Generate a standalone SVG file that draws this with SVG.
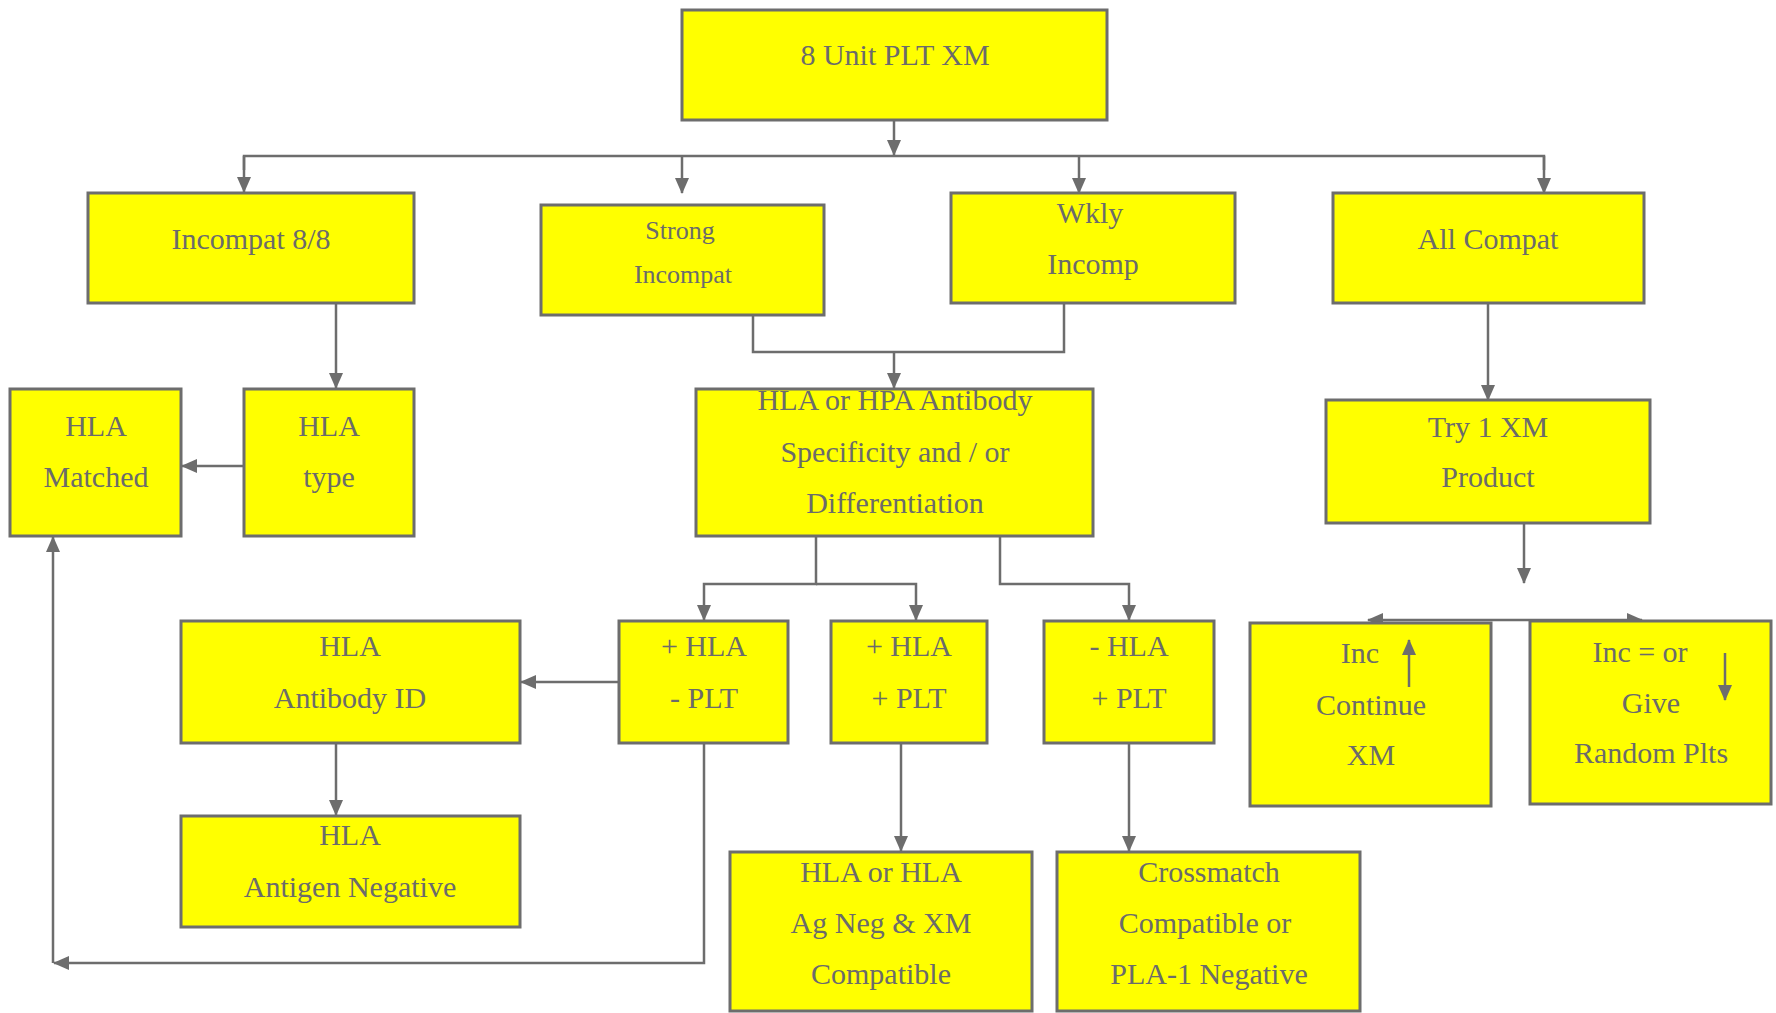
<svg xmlns="http://www.w3.org/2000/svg" width="1776" height="1013" viewBox="0 0 1776 1013">
<style>
.b{fill:#ffff00;stroke:#6d6d6d;stroke-width:3}
.t{font-family:"Liberation Serif","DejaVu Serif",serif;font-size:30px;fill:#6b6b6b;text-anchor:middle}
.s{font-size:26px}
.c{fill:none;stroke:#6d6d6d;stroke-width:2.5}
</style>
<defs>
<marker id="a" markerUnits="userSpaceOnUse" markerWidth="16" markerHeight="14" refX="15" refY="7" orient="auto">
<path d="M0,0 L16,7 L0,14 z" fill="#6d6d6d"/>
</marker>
</defs>
<rect width="1776" height="1013" fill="#ffffff"/>
<g id="connectors">
<path class="c" d="M894,120 V155" marker-end="url(#a)"/>
<path class="c" d="M244,170 V156 H1544 V170"/>
<path class="c" d="M244,156 V192" marker-end="url(#a)"/>
<path class="c" d="M682,156 V193" marker-end="url(#a)"/>
<path class="c" d="M1079,156 V193" marker-end="url(#a)"/>
<path class="c" d="M1544,156 V193" marker-end="url(#a)"/>
<path class="c" d="M336,303 V388" marker-end="url(#a)"/>
<path class="c" d="M244,466 H182" marker-end="url(#a)"/>
<path class="c" d="M753,303 V352 H1064 V303"/>
<path class="c" d="M894,352 V388" marker-end="url(#a)"/>
<path class="c" d="M816,536 V584 H704 V620" marker-end="url(#a)"/>
<path class="c" d="M816,584 H916 V620" marker-end="url(#a)"/>
<path class="c" d="M1000,536 V584 H1129 V620" marker-end="url(#a)"/>
<path class="c" d="M619,682 H521" marker-end="url(#a)"/>
<path class="c" d="M336,743 V815" marker-end="url(#a)"/>
<path class="c" d="M704,743 V963 H54" marker-end="url(#a)"/>
<path class="c" d="M53,963 V537" marker-end="url(#a)"/>
<path class="c" d="M901,743 V851" marker-end="url(#a)"/>
<path class="c" d="M1129,743 V851" marker-end="url(#a)"/>
<path class="c" d="M1488,303 V400" marker-end="url(#a)"/>
<path class="c" d="M1524,523 V583" marker-end="url(#a)"/>
<path class="c" d="M1506,620 H1368" marker-end="url(#a)"/>
<path class="c" d="M1506,620 H1642" marker-end="url(#a)"/>
</g>
<g id="n_top"><rect class="b" x="682" y="10" width="425" height="110"/><text class="t" x="895" y="65">8 Unit PLT XM</text></g>
<g id="n_incompat88"><rect class="b" x="88" y="193" width="326" height="110"/><text class="t" x="251" y="249">Incompat 8/8</text></g>
<g id="n_strong"><rect class="b" x="541" y="205" width="283" height="110"/><text class="t s" x="680" y="239">Strong</text><text class="t s" x="683" y="283">Incompat</text></g>
<g id="n_wkly"><rect class="b" x="951" y="193" width="284" height="110"/><text class="t" x="1090" y="223">Wkly</text><text class="t" x="1093" y="274">Incomp</text></g>
<g id="n_allcompat"><rect class="b" x="1333" y="193" width="311" height="110"/><text class="t" x="1488" y="249">All Compat</text></g>
<g id="n_hlamatched"><rect class="b" x="10" y="389" width="171" height="147"/><text class="t" x="96" y="436">HLA</text><text class="t" x="96" y="487">Matched</text></g>
<g id="n_hlatype"><rect class="b" x="244" y="389" width="170" height="147"/><text class="t" x="329" y="436">HLA</text><text class="t" x="329" y="487">type</text></g>
<g id="n_spec"><rect class="b" x="696" y="389" width="397" height="147"/><text class="t" x="895" y="410">HLA or HPA Antibody</text><text class="t" x="895" y="462">Specificity and / or</text><text class="t" x="895" y="513">Differentiation</text></g>
<g id="n_try"><rect class="b" x="1326" y="400" width="324" height="123"/><text class="t" x="1488" y="437">Try 1 XM</text><text class="t" x="1488" y="487">Product</text></g>
<g id="n_abid"><rect class="b" x="181" y="621" width="339" height="122"/><text class="t" x="350" y="656">HLA</text><text class="t" x="350" y="708">Antibody ID</text></g>
<g id="n_phmp"><rect class="b" x="619" y="621" width="169" height="122"/><text class="t" x="704" y="656">+ HLA</text><text class="t" x="704" y="708">- PLT</text></g>
<g id="n_phpp"><rect class="b" x="831" y="621" width="156" height="122"/><text class="t" x="909" y="656">+ HLA</text><text class="t" x="909" y="708">+ PLT</text></g>
<g id="n_mhpp"><rect class="b" x="1044" y="621" width="170" height="122"/><text class="t" x="1129" y="656">- HLA</text><text class="t" x="1129" y="708">+ PLT</text></g>
<g id="n_inc"><rect class="b" x="1250" y="623" width="241" height="183"/><text class="t" x="1360" y="663">Inc</text><path class="c" d="M1409,687 V640" marker-end="url(#a)"/><text class="t" x="1371" y="715">Continue</text><text class="t" x="1371" y="765">XM</text></g>
<g id="n_random"><rect class="b" x="1530" y="621" width="241" height="183"/><text class="t" x="1640" y="662">Inc = or</text><path class="c" d="M1725,653 V700" marker-end="url(#a)"/><text class="t" x="1651" y="713">Give</text><text class="t" x="1651" y="763">Random Plts</text></g>
<g id="n_agneg"><rect class="b" x="181" y="816" width="339" height="111"/><text class="t" x="350" y="845">HLA</text><text class="t" x="350" y="897">Antigen Negative</text></g>
<g id="n_hlaag"><rect class="b" x="730" y="852" width="302" height="159"/><text class="t" x="881" y="882">HLA or HLA</text><text class="t" x="881" y="933">Ag Neg &amp; XM</text><text class="t" x="881" y="984">Compatible</text></g>
<g id="n_xm"><rect class="b" x="1057" y="852" width="303" height="159"/><text class="t" x="1209" y="882">Crossmatch</text><text class="t" x="1205" y="933">Compatible or</text><text class="t" x="1209" y="984">PLA-1 Negative</text></g>
</svg>
